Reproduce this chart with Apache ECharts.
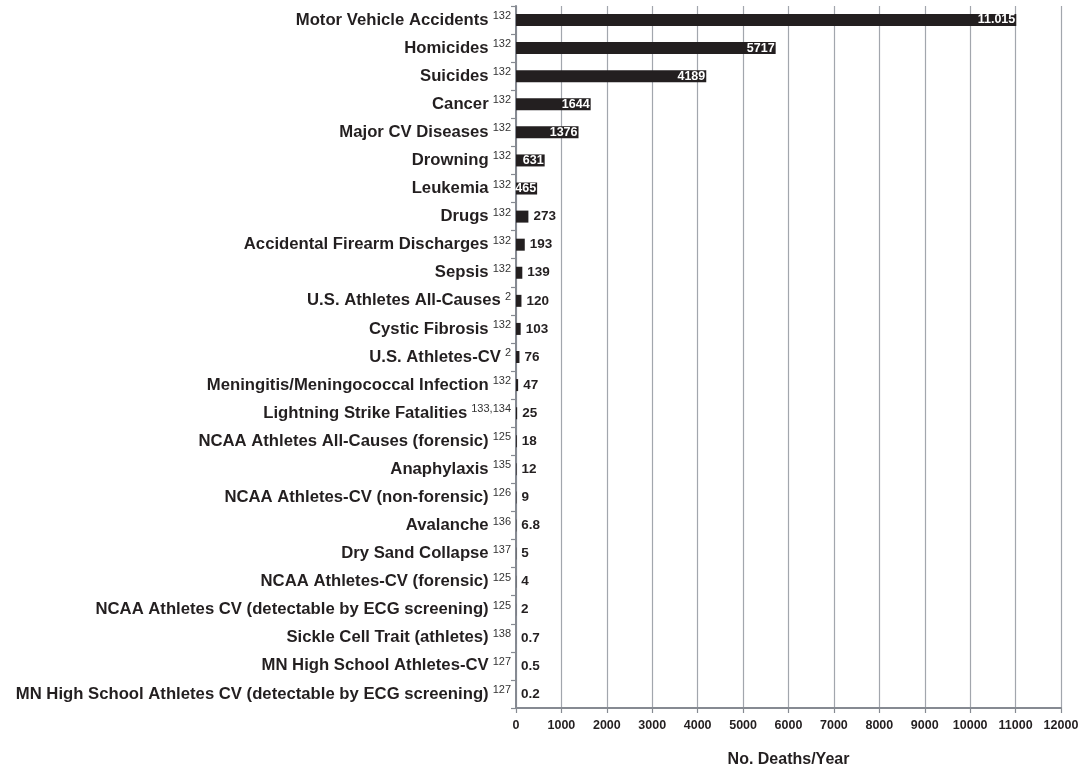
<!DOCTYPE html>
<html><head><meta charset="utf-8">
<script src="https://cdn.jsdelivr.net/npm/echarts@6/dist/echarts.min.js"></script>
<style>html,body{margin:0;padding:0;background:#fff}#c{width:1084px;height:773px}</style>
</head><body><div id="c"></div>
<script>
const categories = ["Motor Vehicle Accidents","Homicides","Suicides","Cancer","Major CV Diseases","Drowning","Leukemia","Drugs","Accidental Firearm Discharges","Sepsis","U.S. Athletes All-Causes","Cystic Fibrosis","U.S. Athletes-CV","Meningitis/Meningococcal Infection","Lightning Strike Fatalities","NCAA Athletes All-Causes (forensic)","Anaphylaxis","NCAA Athletes-CV (non-forensic)","Avalanche","Dry Sand Collapse","NCAA Athletes-CV (forensic)","NCAA Athletes CV (detectable by ECG screening)","Sickle Cell Trait (athletes)","MN High School Athletes-CV","MN High School Athletes CV (detectable by ECG screening)"];
const refs = ["132","132","132","132","132","132","132","132","132","132","2","132","2","132","133,134","125","135","126","136","137","125","125","138","127","127"];
const values = [11015,5717,4189,1644,1376,631,465,273,193,139,120,103,76,47,25,18,12,9,6.8,5,4,2,0.7,0.5,0.2];
const valueLabels = ["11.015","5717","4189","1644","1376","631","465","273","193","139","120","103","76","47","25","18","12","9","6.8","5","4","2","0.7","0.5","0.2"];
const insideCount = 7;
const xTicks = {min:0, max:12000, interval:1000};

const font = "'Liberation Sans', Arial, sans-serif";
const chart = echarts.init(document.getElementById('c'), null, {renderer:'canvas'});
const data = values.map((v,i)=>({
  value:v,
  label: i < insideCount
    ? {show:true, position:'insideRight', color:'#fff', fontWeight:'bold', fontSize:12.5, fontFamily:font, distance:1, formatter:()=>valueLabels[i]}
    : {show:true, position:'right', color:'#231f20', fontWeight:'bold', fontSize:13.5, fontFamily:font, distance:5, formatter:()=>valueLabels[i]}
}));
chart.setOption({
  animation:false,
  grid:{left:516, right:23, top:6, bottom:62, containLabel:false},
  xAxis:{type:'value', min:xTicks.min, max:xTicks.max, interval:xTicks.interval,
    axisLine:{show:true, lineStyle:{color:'#868a92', width:2}},
    axisTick:{show:true, length:5, lineStyle:{color:'#868a92', width:1.2}},
    splitLine:{show:true, lineStyle:{color:'#a2a6ad', width:1.2}},
    axisLabel:{color:'#231f20', fontWeight:'bold', fontSize:12.5, fontFamily:font, margin:11, formatter:v=>String(v)},
    name:'No. Deaths/Year', nameLocation:'middle', nameGap:44,
    nameTextStyle:{color:'#231f20', fontWeight:'bold', fontSize:16, fontFamily:font}
  },
  yAxis:{type:'category', data:categories, inverse:true,
    axisLine:{show:true, lineStyle:{color:'#868a92', width:2}},
    axisTick:{show:true, length:5, lineStyle:{color:'#868a92', width:1.2}},
    axisLabel:{margin:5, fontFamily:font,
      formatter:(v,i)=>'{n|'+v+'}{s|'+refs[i]+'}',
      rich:{
        n:{fontSize:16.7, fontWeight:'bold', color:'#231f20', fontFamily:font, padding:[0,4,0,0]},
        s:{fontSize:11, color:'#333', fontFamily:font, verticalAlign:'top', padding:[0,0,8,0]}
      }
    }
  },
  series:[{type:'bar', data:data, barWidth:12, itemStyle:{color:'#231f20'}, labelLayout:{hideOverlap:false}}]
});
</script></body></html>
